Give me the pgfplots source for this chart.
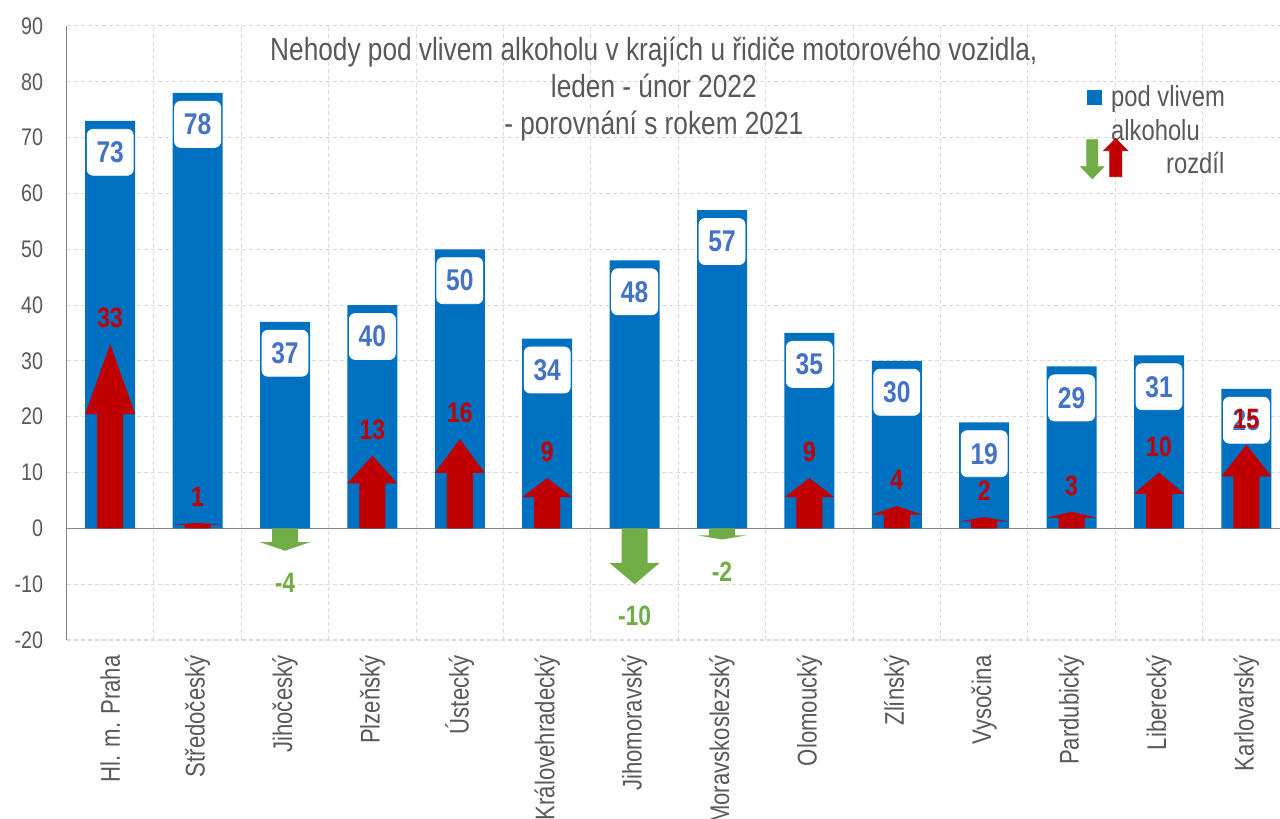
\documentclass[border=0pt]{standalone}
\usepackage{fontspec}
\setmainfont{Liberation Sans}[FakeStretch=0.82]
\usepackage{pgfplots}
\pgfplotsset{compat=1.18}
\usepackage{pgfplotstable}
\definecolor{barblue}{HTML}{0070C0}
\definecolor{lblblue}{HTML}{4472C4}
\definecolor{arrred}{HTML}{C00000}
\definecolor{arrgreen}{HTML}{70AD47}
\definecolor{txtgrey}{HTML}{595959}
\definecolor{gridgrey}{HTML}{D9D9D9}
\definecolor{axisgrey}{HTML}{868686}
\newdimen\arrL \newdimen\arrB \newdimen\arrT

\pgfplotstableread{
x total diff
0 73 33
1 78 1
2 37 -4
3 40 13
4 50 16
5 34 9
6 48 -10
7 57 -2
8 35 9
9 30 4
10 19 2
11 29 3
12 31 10
13 25 15
}\data

\begin{document}
\begin{tikzpicture}
\begin{axis}[
  scale only axis,
  x=43.7pt, y=2.791pt,
  xmin=-0.5, xmax=13.384, ymin=-20, ymax=90,
  enlargelimits=false,
  axis lines*=left,
  x axis line style={draw=none},
  y axis line style={draw=axisgrey, line width=0.75pt},
  /pgf/number format/assume math mode=true,
  xtick={0,...,13},
  xticklabels={Hl. m. Praha, Středočeský, Jihočeský, Plzeňský, Ústecký, Královehradecký, Jihomoravský, Moravskoslezský, Olomoucký, Zlínský, Vysočina, Pardubický, Liberecký, Karlovarský},
  minor xtick={0.5,1.5,...,12.5},
  ytick={-20,-10,...,90},
  xminorgrids, ymajorgrids,
  major grid style={draw=gridgrey, line width=0.5pt, dash pattern=on 2pt off 1.5pt},
  minor grid style={draw=gridgrey, line width=0.5pt, dash pattern=on 2pt off 1.5pt},
  major tick length=0pt, minor tick length=0pt,
  extra y ticks={0}, extra y tick labels={},
  extra y tick style={grid=major, major grid style={solid, draw=axisgrey, line width=0.75pt}},
  xticklabel style={rotate=90, anchor=east, inner xsep=7.5pt, inner ysep=0pt, font=\fontsize{13.5}{16}\selectfont, text=txtgrey},
  yticklabel style={anchor=east, inner sep=0pt, xshift=-11.5pt, font=\fontsize{12}{14}\selectfont, text=txtgrey},
  title={Nehody pod vlivem alkoholu v krajích u řidiče motorového vozidla,\\leden - únor 2022\\- porovnání s rokem 2021},
  title style={at={(0.484,1)}, anchor=north, yshift=-11.5pt, inner sep=0pt, align=center, font=\fontsize{16}{18.5}\selectfont, text=txtgrey},
  legend style={at={(axis cs:11.176,79.4)}, anchor=north west, draw=none, fill=none, inner sep=0pt, column sep=4.5pt, row sep=6pt, font=\fontsize{14.5}{17}\selectfont, cells={anchor=west}, nodes={inner sep=0pt, text depth=0pt, align=left, text=txtgrey}},
]
\addplot[ybar, bar width=25pt, fill=barblue, draw=none, forget plot,
  nodes near coords,
  every node near coord/.append style={anchor=north, yshift=-4pt, fill=white, draw=white, rounded corners=3pt, minimum width=23pt, minimum height=23pt, inner sep=0pt, text=lblblue, font=\fontsize{15}{15}\selectfont\bfseries}]
  table[x=x, y=total] {\data};

\addplot[forget plot, only marks, mark=*, mark size=0pt, mark options={draw=none, fill=none},
  scatter, point meta=explicit symbolic,
  scatter/@pre marker code/.code={%
    \pgfkeys{/pgf/fpu=false}%
    \arrL=\pgfplotspointmeta pt\relax
    \arrL=2.791\arrL
    \arrB=0.62\arrL
    \ifdim\arrL>0pt
      \arrT=\arrL \advance\arrT by 13pt \def\arrcol{arrred}%
    \else
      \arrT=\arrL \advance\arrT by -16pt \def\arrcol{arrgreen}%
    \fi
    \pgfscope
    \pgfpathmoveto{\pgfqpoint{-6.5pt}{0pt}}%
    \pgfpathlineto{\pgfqpoint{-6.5pt}{\arrB}}%
    \pgfpathlineto{\pgfqpoint{-12.5pt}{\arrB}}%
    \pgfpathlineto{\pgfqpoint{0pt}{\arrL}}%
    \pgfpathlineto{\pgfqpoint{12.5pt}{\arrB}}%
    \pgfpathlineto{\pgfqpoint{6.5pt}{\arrB}}%
    \pgfpathlineto{\pgfqpoint{6.5pt}{0pt}}%
    \pgfpathclose
    \pgfsetfillcolor{\arrcol}%
    \pgfusepath{fill}%
    \pgftext[at=\pgfqpoint{0pt}{\arrT}]{\color{\arrcol}\fontsize{14}{14}\selectfont\bfseries\pgfplotspointmeta}%
    \endpgfscope
    \pgfscope
  },
  scatter/@post marker code/.code={\endpgfscope}
] table[x=x, y expr=0, meta=diff] {\data};

\addlegendimage{legend image code/.code={\fill[barblue] (0pt,4.5pt) rectangle (7pt,11.5pt);}}
\addlegendentry{pod vlivem\\alkoholu}
\addlegendimage{legend image code/.code={%
  \fill[arrgreen, overlay] (-0.5pt,11.75pt) -- (-0.5pt,-1.75pt) -- (-3.5pt,-1.75pt) -- (2.25pt,-7.75pt) -- (8pt,-1.75pt) -- (5pt,-1.75pt) -- (5pt,11.75pt) -- cycle;
  \fill[arrred, overlay] (11pt,-6.75pt) -- (11pt,6.25pt) -- (8pt,6.25pt) -- (14pt,12.25pt) -- (20pt,6.25pt) -- (17pt,6.25pt) -- (17pt,-6.75pt) -- cycle;
}}
\addlegendentry{\hspace*{27.5pt}rozdíl}
\end{axis}
\pgfresetboundingbox
\path (current axis.south west) ++(-33.25pt,-89.5pt) rectangle ++(640pt,409.5pt);
\end{tikzpicture}
\end{document}
